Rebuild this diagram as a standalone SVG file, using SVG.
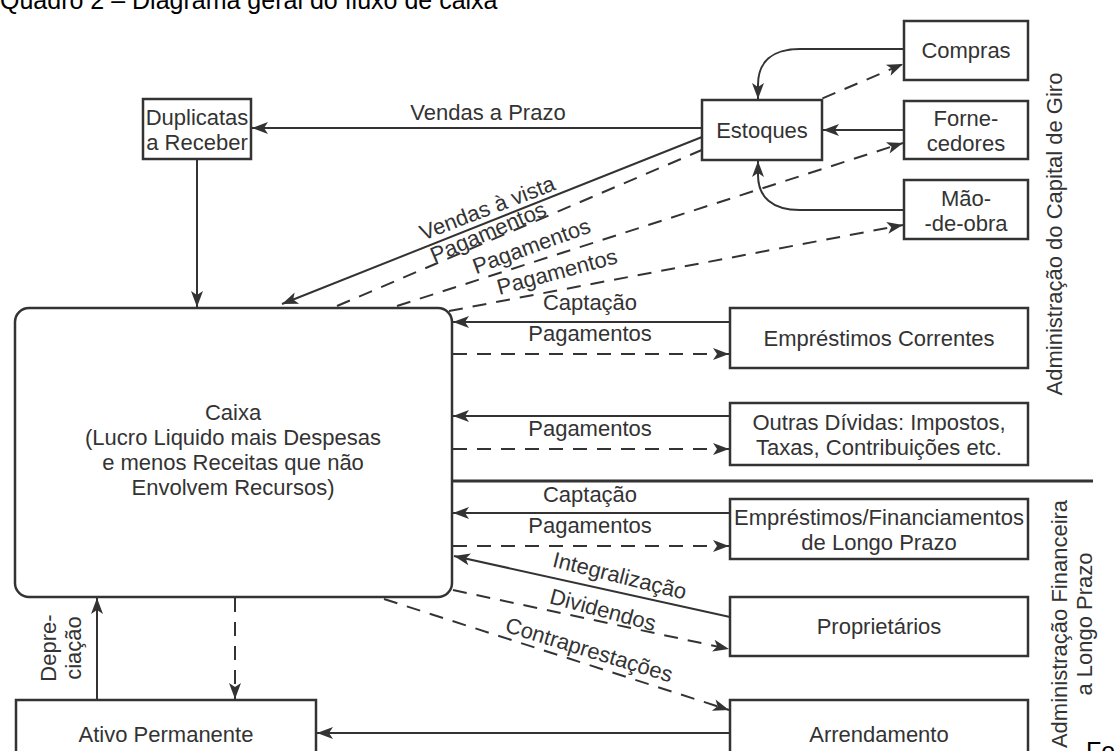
<svg xmlns="http://www.w3.org/2000/svg" width="1120" height="751" viewBox="0 0 1120 751">
<style>
text{font-family:"Liberation Sans",Arial,sans-serif;font-size:22px;fill:#333;}
.title{fill:#000;font-size:25px;}
.box{fill:#fff;stroke:#333;stroke-width:2.5;}
.c{text-anchor:middle;}
.ln{fill:none;stroke:#333;stroke-width:2;}
.ds{fill:none;stroke:#333;stroke-width:2;stroke-dasharray:14 10;}
</style>
<defs>
<marker id="ah" markerUnits="userSpaceOnUse" markerWidth="16" markerHeight="12" refX="16" refY="6" orient="auto" overflow="visible">
<path d="M0,0 L16,6 L0,12 L4,6 z" fill="#333"/>
</marker>
</defs>
<rect width="1120" height="751" fill="#fff"/>
<text class="title" x="0" y="8.5">Quadro 2 – Diagrama geral do fluxo de caixa</text>

<g id="connectors">
<line class="ln" x1="702" y1="128" x2="252" y2="128" marker-end="url(#ah)"/>
<line class="ln" x1="197" y1="159" x2="197" y2="307" marker-end="url(#ah)"/>
<line class="ln" x1="702" y1="137" x2="282" y2="304" marker-end="url(#ah)"/>
<line class="ds" x1="337" y1="306" x2="903" y2="64" marker-end="url(#ah)"/>
<line class="ds" x1="397" y1="306" x2="903" y2="143" marker-end="url(#ah)"/>
<line class="ds" x1="449" y1="311" x2="903" y2="225" marker-end="url(#ah)"/>
<path class="ln" d="M904,49 L800,49 C772,49 758,62 758,85 L758,99" marker-end="url(#ah)"/>
<line class="ln" x1="904" y1="130" x2="823" y2="130" marker-end="url(#ah)"/>
<path class="ln" d="M904,210 L800,210 C772,210 758,197 758,175 L758,161" marker-end="url(#ah)"/>
<line class="ln" x1="730" y1="322" x2="453" y2="322" marker-end="url(#ah)"/>
<line class="ds" x1="453" y1="354" x2="729" y2="354" marker-end="url(#ah)"/>
<line class="ln" x1="730" y1="416" x2="453" y2="416" marker-end="url(#ah)"/>
<line class="ds" x1="453" y1="449" x2="729" y2="449" marker-end="url(#ah)"/>
<line x1="452" y1="481" x2="1093" y2="481" stroke="#333" stroke-width="3"/>
<line class="ln" x1="730" y1="513" x2="453" y2="513" marker-end="url(#ah)"/>
<line class="ds" x1="453" y1="546" x2="729" y2="546" marker-end="url(#ah)"/>
<line class="ln" x1="730" y1="617" x2="454" y2="556" marker-end="url(#ah)"/>
<line class="ds" x1="453" y1="590" x2="729" y2="649" marker-end="url(#ah)"/>
<line class="ds" x1="384" y1="599" x2="729" y2="710" marker-end="url(#ah)"/>
<line class="ln" x1="730" y1="733" x2="317" y2="733" marker-end="url(#ah)"/>
<line class="ln" x1="97" y1="700" x2="97" y2="598" marker-end="url(#ah)"/>
<line class="ds" x1="235" y1="598" x2="235" y2="699" marker-end="url(#ah)"/>

<text class="c" x="488" y="120">Vendas a Prazo</text>
<text class="c" transform="translate(490,215) rotate(-21)">Vendas à vista</text>
<text class="c" transform="translate(491,239) rotate(-23)">Pagamentos</text>
<text class="c" transform="translate(534,253) rotate(-20)">Pagamentos</text>
<text class="c" transform="translate(559,279) rotate(-15)">Pagamentos</text>
<text class="c" x="590" y="310">Captação</text>
<text class="c" x="590" y="341">Pagamentos</text>
<text class="c" x="590" y="436">Pagamentos</text>
<text class="c" x="590" y="502">Captação</text>
<text class="c" x="590" y="533">Pagamentos</text>
<text class="c" transform="translate(618,583) rotate(14)">Integralização</text>
<text class="c" transform="translate(601,617) rotate(15)">Dividendos</text>
<text class="c" transform="translate(587,657) rotate(17)">Contraprestações</text>
<text class="c" transform="translate(56,648) rotate(-90)"><tspan x="0" y="0">Depre-</tspan><tspan x="0" dy="25">ciação</tspan></text>
</g>

<g id="compras"><rect class="box" x="904" y="21" width="124" height="59"/><text class="c" x="966" y="58">Compras</text></g>
<g id="estoques"><rect class="box" x="702" y="100" width="120" height="60"/><text class="c" x="762" y="138">Estoques</text></g>
<g id="fornecedores"><rect class="box" x="904" y="101" width="124" height="58"/><text class="c"><tspan x="966" y="126">Forne-</tspan><tspan x="966" dy="25">cedores</tspan></text></g>
<g id="maodeobra"><rect class="box" x="904" y="180" width="124" height="59"/><text class="c"><tspan x="966" y="206">Mão-</tspan><tspan x="966" dy="25">-de-obra</tspan></text></g>
<g id="duplicatas"><rect class="box" x="143" y="99" width="108" height="60"/><text class="c"><tspan x="197" y="125">Duplicatas</tspan><tspan x="197" dy="25">a Receber</tspan></text></g>
<g id="caixa"><rect class="box" x="15" y="308" width="437" height="289" rx="14"/>
<text class="c"><tspan x="233" y="420">Caixa</tspan><tspan x="233" dy="25">(Lucro Liquido mais Despesas</tspan><tspan x="233" dy="25">e menos Receitas que não</tspan><tspan x="233" dy="25">Envolvem Recursos)</tspan></text></g>
<g id="emprestimos-correntes"><rect class="box" x="730" y="308" width="298" height="60"/><text class="c" x="879" y="346">Empréstimos Correntes</text></g>
<g id="outras-dividas"><rect class="box" x="730" y="403" width="298" height="62"/><text class="c"><tspan x="879" y="430">Outras Dívidas: Impostos,</tspan><tspan x="879" dy="25">Taxas, Contribuições etc.</tspan></text></g>
<g id="emprestimos-lp"><rect class="box" x="730" y="499" width="298" height="60"/><text class="c"><tspan x="879" y="525">Empréstimos/Financiamentos</tspan><tspan x="879" dy="25">de Longo Prazo</tspan></text></g>
<g id="proprietarios"><rect class="box" x="730" y="597" width="298" height="59"/><text class="c" x="879" y="634">Proprietários</text></g>
<g id="arrendamento"><rect class="box" x="730" y="700" width="298" height="70"/><text class="c" x="879" y="742">Arrendamento</text></g>
<g id="ativo-permanente"><rect class="box" x="16" y="700" width="300" height="70"/><text class="c" x="166" y="742">Ativo Permanente</text></g>

<g id="side-labels">
<text class="c" transform="translate(1062,234) rotate(-90)">Administração do Capital de Giro</text>
<text class="c" transform="translate(1067,624) rotate(-90)"><tspan x="0" y="0">Administração Financeira</tspan><tspan x="0" dy="25">a Longo Prazo</tspan></text>
</g>
<text class="title" x="1086" y="760">Fo</text>
</svg>
